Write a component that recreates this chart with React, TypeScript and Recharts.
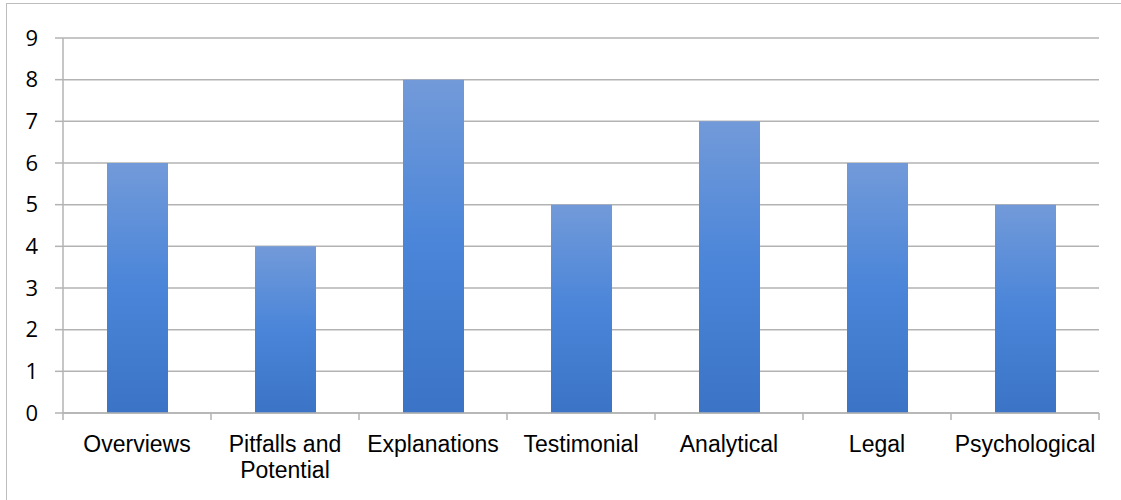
import { Bar, BarChart, CartesianGrid, Text, XAxis, YAxis } from 'recharts';

const categories = [
  'Overviews',
  'Pitfalls and Potential',
  'Explanations',
  'Testimonial',
  'Analytical',
  'Legal',
  'Psychological',
];
const counts = [6, 4, 8, 5, 7, 6, 5];
const yTicks = [0, 1, 2, 3, 4, 5, 6, 7, 8, 9];

const data = categories.map((name, i) => ({ name, count: counts[i] }));

const AXIS_GRAY = '#b3b3b3';
const BAND = 148;

const CategoryTick = (props: any) => {
  const { x, y, payload, index } = props;
  const half = BAND / 2;
  return (
    <g>
      <line x1={x - half} x2={x - half} y1={y - 7} y2={y} stroke={AXIS_GRAY} strokeWidth={1.5} />
      {index === categories.length - 1 && (
        <line x1={x + half} x2={x + half} y1={y - 7} y2={y} stroke={AXIS_GRAY} strokeWidth={1.5} />
      )}
      <Text
        x={x}
        y={y + 16}
        width={BAND - 4}
        textAnchor="middle"
        verticalAnchor="start"
        lineHeight={26}
        fill="#000"
        style={{ fontFamily: '"Liberation Sans", Arial, sans-serif', fontSize: 23 }}
      >
        {payload.value}
      </Text>
    </g>
  );
};

export default function App() {
  return (
    <div
      style={{
        position: 'absolute',
        left: 0,
        top: 0,
        width: 1121,
        height: 500,
        background: '#fff',
      }}
    >
      <div
        style={{
          position: 'absolute',
          left: 6,
          top: 3,
          right: 0,
          bottom: 0,
          borderLeft: '1.5px solid #bdbdbd',
          borderTop: '1.5px solid #bdbdbd',
        }}
      />
      <BarChart
        width={1121}
        height={500}
        data={data}
        margin={{ top: 38, right: 22, left: 0, bottom: 0 }}
        style={{ position: 'absolute', left: 0, top: 0 }}
      >
        <defs>
          <linearGradient id="barFill" x1="0" y1="0" x2="0" y2="1">
            <stop offset="0%" stopColor="#729ad9" />
            <stop offset="50%" stopColor="#4a85d9" />
            <stop offset="100%" stopColor="#3b74c6" />
          </linearGradient>
        </defs>
        <CartesianGrid vertical={false} stroke={AXIS_GRAY} strokeWidth={1.5} />
        <XAxis
          dataKey="name"
          interval={0}
          height={87}
          stroke={AXIS_GRAY}
          strokeWidth={1.5}
          tickLine={false}
          tickSize={7}
          tickMargin={0}
          tick={<CategoryTick />}
        />
        <YAxis
          domain={[0, 9]}
          ticks={yTicks}
          interval={0}
          width={63}
          stroke={AXIS_GRAY}
          strokeWidth={1.5}
          tickSize={8}
          tickMargin={17}
          tick={{ fill: '#000', fontSize: 22, fontFamily: '"Open Sans", sans-serif' }}
        />
        <Bar dataKey="count" barSize={61} fill="url(#barFill)" isAnimationActive={false} />
      </BarChart>
    </div>
  );
}
